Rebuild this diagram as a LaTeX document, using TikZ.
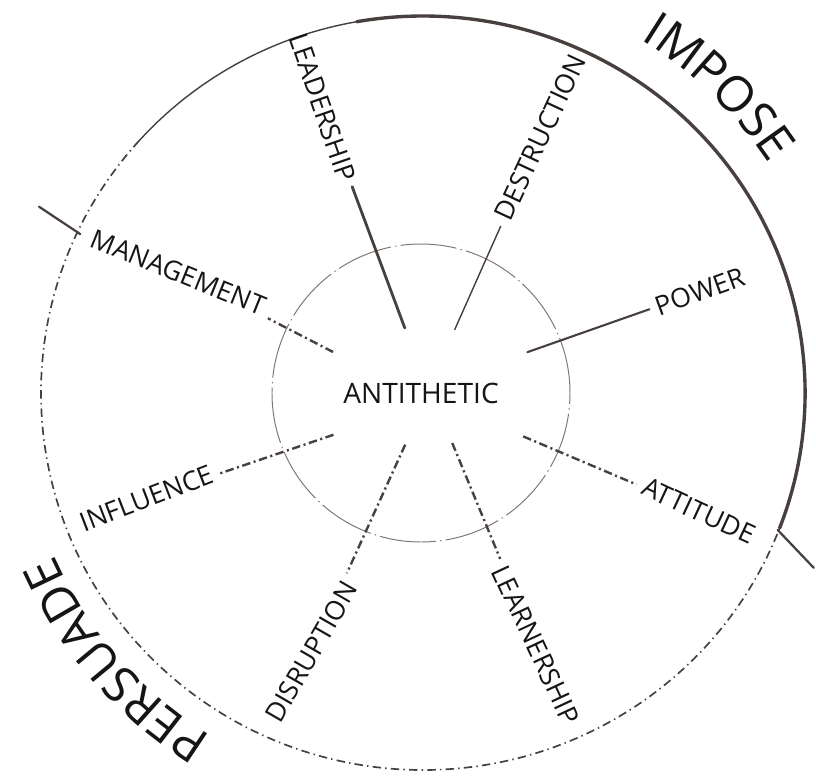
\documentclass[tikz,border=0pt]{standalone}
\usepackage{fontspec}
\setmainfont{Open Sans}
\usetikzlibrary{decorations.text}
\definecolor{PencilGray}{RGB}{72,64,62}
\definecolor{PencilLight}{RGB}{128,118,114}
\definecolor{InkBlack}{RGB}{22,20,20}

\begin{document}
\begin{tikzpicture}[x=0.025cm,y=0.025cm]
\tikzstyle{word}=[text=InkBlack,font=\fontsize{19}{21}\selectfont,inner sep=5pt]
\tikzstyle{firm}=[draw=PencilGray,line cap=round]
\tikzstyle{sketchdash}=[draw=PencilGray,line width=1.7pt,dash pattern=on 6pt off 2.5pt on 1.5pt off 2.5pt]
\tikzstyle{rimdash}=[draw=PencilGray,line width=1.2pt,dash pattern=on 6pt off 3pt on 1pt off 3pt]
\useasboundingbox (-421,-386) rectangle (395,393);
% outer rim: solid half and dotted half
\draw[firm,line width=2.4pt] (2,0) ++(-21:382 and 377) arc[start angle=-21,end angle=100,x radius=382,y radius=377];
\draw[firm,line width=1pt] (2,0) ++(100:382 and 377) arc[start angle=100,end angle=138,x radius=382,y radius=377];
\draw[rimdash] (2,0) ++(138:382 and 377) arc[start angle=138,end angle=339,x radius=382,y radius=377];
\draw[firm,line width=1.6pt] (155:376) -- (154:425);
\draw[firm,line width=1.6pt] (-21:382) -- (-24:430);
% inner circle
\draw[PencilLight,line width=0.7pt,dash pattern=on 40pt off 3pt on 1pt off 3pt] (0,0) circle[radius=149];
\node[text=InkBlack,font=\fontsize{20}{24}\selectfont] (core) at (0,0) {ANTITHETIC};
% words round the centre
\node[word,rotate=-71] (leadership) at (109:302) {LEADERSHIP};
\node[word,rotate=65] (destruction) at (65:282) {DESTRUCTION};
\node[word,rotate=20] (power) at (20:297) {POWER};
\node[word,rotate=-25] (attitude) at (-23:302) {ATTITUDE};
\node[word,rotate=-65] (learnership) at (-65.5:277) {LEARNERSHIP};
\node[word,rotate=60] (disruption) at (247:281) {DISRUPTION};
\node[word,rotate=21] (influence) at (201:294) {INFLUENCE};
\node[word,rotate=-22] (management) at (153.5:271) {MANAGEMENT};
\coordinate (lead-in) at (104:67);
\coordinate (dest-in) at (62:72);
\coordinate (pow-in) at (21:114);
\coordinate (att-in) at (-23:111);
\coordinate (learn-in) at (-58:59);
\coordinate (disr-in) at (253:54);
\coordinate (infl-in) at (205.5:97);
\coordinate (mana-in) at (155:97);
\draw[firm,line width=2pt] (lead-in) -- (leadership);
\draw[firm,line width=1pt] (dest-in) -- (destruction);
\draw[firm,line width=1.5pt] (pow-in) -- (power);
\draw[sketchdash] (att-in) -- (attitude);
\draw[sketchdash] (learn-in) -- (learnership);
\draw[sketchdash] (disr-in) -- (disruption);
\draw[sketchdash] (infl-in) -- (influence);
\draw[sketchdash] (mana-in) -- (management);
% the two halves
\path[decorate,decoration={text along path,text align=center,text color=InkBlack,
  text={|\fontsize{35}{38}\selectfont|IMPOSE}}]
  (2,0) ++(76:415) arc[start angle=76,end angle=16,radius=415];
\path[decorate,decoration={text along path,text align=center,text color=InkBlack,
  text={|\fontsize{35}{38}\selectfont|PERSUADE}}]
  (2,0) ++(261:403) arc[start angle=261,end angle=181,radius=403];
\end{tikzpicture}
\end{document}
